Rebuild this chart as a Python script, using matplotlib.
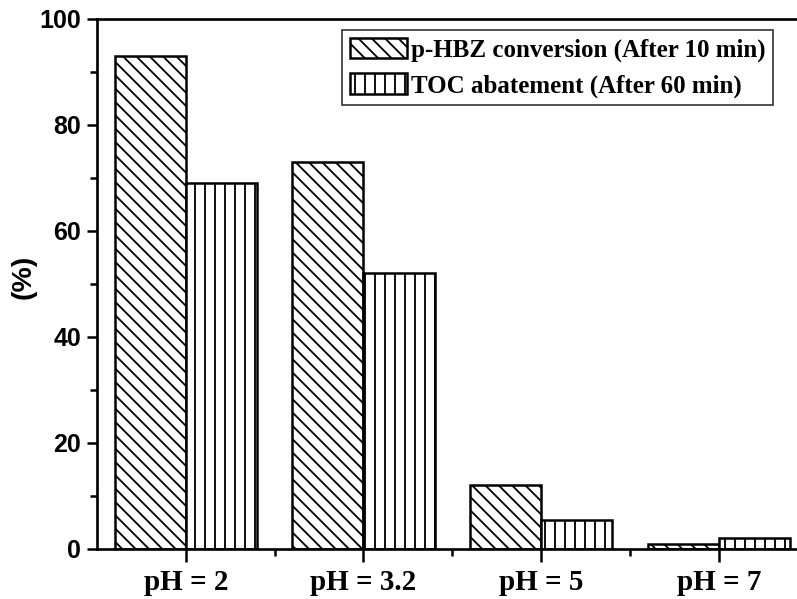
import numpy as np
import matplotlib
matplotlib.use("Agg")
import matplotlib.pyplot as plt

categories = ["pH = 2", "pH = 3.2", "pH = 5", "pH = 7"]
conversion = [93, 73, 12, 1]
toc = [69, 52, 5.5, 2]
series_names = ["p-HBZ conversion (After 10 min)", "TOC abatement (After 60 min)"]

plt.rcParams['hatch.linewidth'] = 1.1

fig = plt.figure(figsize=(797 / 120, 599 / 120), dpi=120)
ax = fig.add_axes([97 / 797, 50 / 599, 1 - 97 / 797, (549 - 19) / 599])

x = np.arange(len(categories))
w = 0.4
ax.bar(x - w / 2, conversion, w, color="white", edgecolor="black",
       hatch="\\\\\\", linewidth=1.5, label=series_names[0])
ax.bar(x + w / 2, toc, w, color="white", edgecolor="black",
       hatch="||", linewidth=1.5, label=series_names[1])

ax.set_xlim(-0.5, 3.44)
ax.set_ylim(0, 100)
ax.set_yticks([0, 20, 40, 60, 80, 100])
ax.set_yticks([10, 30, 50, 70, 90], minor=True)
ax.set_xticks(x)
ax.set_xticks(x[:-1] + 0.5, minor=True)
ax.set_xticklabels(categories, fontfamily="Liberation Serif", fontweight="bold", fontsize=17.5)
for lab in ax.get_yticklabels():
    lab.set_fontfamily("Liberation Sans")
    lab.set_fontweight("bold")
    lab.set_fontsize(15)

ax.tick_params(axis="both", which="major", direction="out", length=6, width=1.5)
ax.tick_params(axis="both", which="minor", direction="out", length=4, width=1.5)
ax.tick_params(axis="x", which="major", length=8, pad=4)

for s in ["left", "top", "bottom"]:
    ax.spines[s].set_linewidth(1.6)
ax.spines["right"].set_visible(False)

ax.set_ylabel("(%)", fontfamily="Liberation Sans", fontweight="bold", fontsize=17)
ax.yaxis.set_label_coords(-0.086, 0.513)

leg = ax.legend(loc="upper right", bbox_to_anchor=(0.966, 0.979), frameon=True, fancybox=False,
                prop={"family": "Liberation Serif", "weight": "bold", "size": 15},
                handlelength=2.3, handleheight=0.9, handletextpad=0.15,
                labelspacing=0.45, borderpad=0.3, borderaxespad=0.0)
leg.get_frame().set_edgecolor("black")
leg.get_frame().set_linewidth(1.0)

fig.savefig("out.png", dpi=120)
